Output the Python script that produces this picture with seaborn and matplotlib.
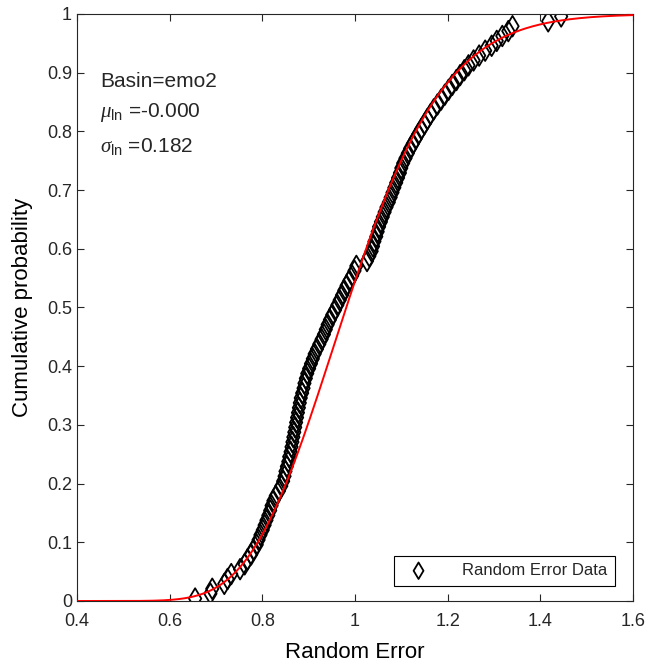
import math
import numpy as np
import pandas as pd
import matplotlib
matplotlib.use("Agg")
import matplotlib.pyplot as plt
import seaborn as sns

# sorted random error samples
errors = [
    0.655, 0.688, 0.692, 0.718, 0.725, 0.733, 0.752, 0.762, 0.768, 0.776,
    0.781, 0.788, 0.792, 0.796, 0.801, 0.805, 0.809, 0.813, 0.817, 0.820,
    0.824, 0.829, 0.836, 0.841, 0.845, 0.848, 0.850, 0.853, 0.856, 0.858,
    0.861, 0.863, 0.865, 0.867, 0.869, 0.871, 0.873, 0.875, 0.877, 0.879,
    0.881, 0.883, 0.886, 0.889, 0.891, 0.894, 0.897, 0.901, 0.905, 0.909,
    0.913, 0.918, 0.923, 0.928, 0.933, 0.937, 0.941, 0.946, 0.951, 0.957,
    0.962, 0.967, 0.972, 0.977, 0.982, 0.988, 0.994, 0.999, 1.003, 1.026,
    1.031, 1.036, 1.039, 1.042, 1.046, 1.049, 1.052, 1.056, 1.060, 1.064,
    1.068, 1.073, 1.077, 1.081, 1.085, 1.089, 1.093, 1.097, 1.100, 1.104,
    1.109, 1.114, 1.119, 1.125, 1.131, 1.137, 1.143, 1.150, 1.156, 1.163,
    1.170, 1.178, 1.186, 1.194, 1.202, 1.210, 1.219, 1.227, 1.236, 1.245,
    1.256, 1.268, 1.281, 1.295, 1.306, 1.318, 1.331, 1.340, 1.417, 1.445,
]

basin = "emo2"
mu_ln = -0.0       # values printed on the chart
sigma_ln = 0.182
# the drawn red curve sits a bit narrower than the printed values
mu_curve = -0.019
sigma_curve = 0.169

x_ticks = [0.4, 0.6, 0.8, 1.0, 1.2, 1.4, 1.6]
y_ticks = [0, 0.1, 0.2, 0.3, 0.4, 0.5, 0.6, 0.7, 0.8, 0.9, 1]

# empirical cdf (plotting positions)
df = pd.DataFrame({"x": sorted(errors)})
n = len(df)
df["p"] = (df["x"].rank(method="first") - 0.5) / n

# fitted lognormal cdf
xs = np.linspace(0.4, 1.6, 400)
fit = pd.DataFrame({"x": xs})
fit["p"] = [0.5 * (1 + math.erf((math.log(v) - mu_curve) / (sigma_curve * math.sqrt(2)))) for v in xs]

sns.set_style("ticks")
plt.rcParams["font.family"] = ["Liberation Sans", "DejaVu Sans"]
plt.rcParams["mathtext.fontset"] = "custom"
plt.rcParams["mathtext.rm"] = "Liberation Sans"
plt.rcParams["mathtext.it"] = "Liberation Serif:italic"

fig = plt.figure(figsize=(6.49, 6.66), dpi=100)
ax = fig.add_axes([0.1186, 0.0976, 0.8567, 0.8814])

sns.lineplot(data=fit, x="x", y="p", color="red", linewidth=1.4, ax=ax, zorder=3)
sns.scatterplot(data=df, x="x", y="p", marker="d", s=110, facecolor="none",
                edgecolor="black", linewidth=1.3, ax=ax, zorder=2,
                label="Random Error Data")

ax.set_xlim(0.4, 1.6)
ax.set_ylim(0, 1)
ax.set_xticks(x_ticks)
ax.set_yticks(y_ticks)
ax.set_xticklabels([f"{t:g}" for t in x_ticks])
ax.set_yticklabels([f"{t:g}" for t in y_ticks])
ax.tick_params(direction="in", top=True, right=True, labelsize=13,
               colors="#262626", length=5, width=0.8)
ax.tick_params(axis="x", pad=9)
for s in ax.spines.values():
    s.set_visible(True)
    s.set_color("#262626")
    s.set_linewidth(0.8)

ax.set_xlabel("Random Error", fontsize=16, color="black", labelpad=8)
ax.set_ylabel("Cumulative probability", fontsize=16, color="black", labelpad=10)

ax.text(0.45, 0.885, f"Basin={basin}", fontsize=15, va="center")
ax.text(0.45, 0.833, r"$\mu_{\rm ln}$" + f" ={mu_ln:.3f}", fontsize=15, va="center")
ax.text(0.45, 0.774, r"$\sigma_{\rm ln}$" + f" ={sigma_ln:.3f}", fontsize=15, va="center")

leg = ax.legend(loc="lower right", fontsize=12, frameon=True, fancybox=False,
                framealpha=1, edgecolor="black", borderpad=0.45, markerscale=0.8,
                handletextpad=1.6, bbox_to_anchor=(0.982, 0.012))
leg.get_frame().set_linewidth(0.8)

fig.savefig("out.png", dpi=100)
